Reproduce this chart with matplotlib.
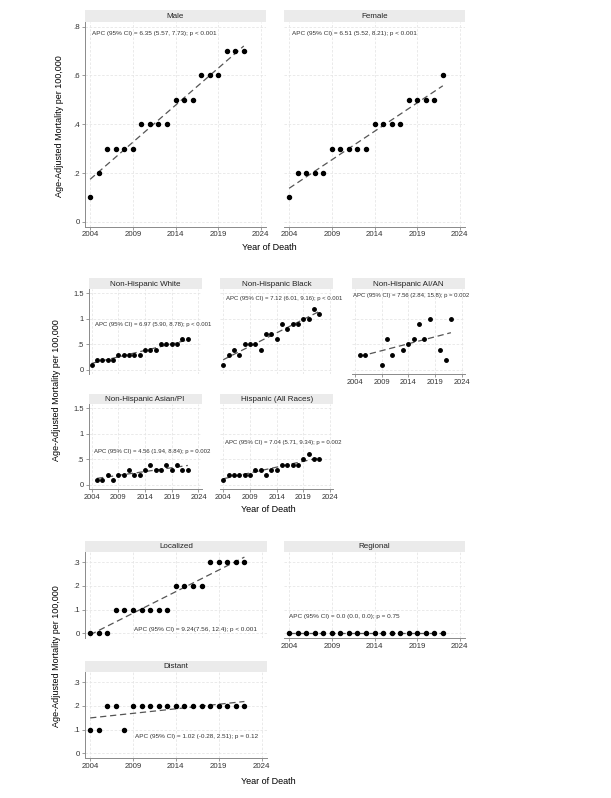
import numpy as np
import matplotlib
matplotlib.use("Agg")
import matplotlib.pyplot as plt

plt.rcParams['font.family'] = ['Liberation Sans', 'DejaVu Sans']

# ---------------- data ----------------
years = [2004, 2005, 2006, 2007, 2008, 2009, 2010, 2011, 2012, 2013,
         2014, 2015, 2016, 2017, 2018, 2019, 2020, 2021, 2022]

male = [0.1, 0.2, 0.3, 0.3, 0.3, 0.3, 0.4, 0.4, 0.4, 0.4,
        0.5, 0.5, 0.5, 0.6, 0.6, 0.6, 0.7, 0.7, 0.7]
female = [0.1, 0.2, 0.2, 0.2, 0.2, 0.3, 0.3, 0.3, 0.3, 0.3,
          0.4, 0.4, 0.4, 0.4, 0.5, 0.5, 0.5, 0.5, 0.6]

nh_white = [0.1, 0.2, 0.2, 0.2, 0.2, 0.3, 0.3, 0.3, 0.3, 0.3,
            0.4, 0.4, 0.4, 0.5, 0.5, 0.5, 0.5, 0.6, 0.6]
nh_black = [0.1, 0.3, 0.4, 0.3, 0.5, 0.5, 0.5, 0.4, 0.7, 0.7,
            0.6, 0.9, 0.8, 0.9, 0.9, 1.0, 1.0, 1.2, 1.1]
aian_years = [2005, 2006, 2009, 2010, 2011, 2013, 2014, 2015, 2016,
              2017, 2018, 2020, 2021, 2022]
nh_aian = [0.3, 0.3, 0.1, 0.6, 0.3, 0.4, 0.5, 0.6, 0.9, 0.6, 1.0, 0.4, 0.2, 1.0]
asian_years = [2005, 2006, 2007, 2008, 2009, 2010, 2011, 2012, 2013,
               2014, 2015, 2016, 2017, 2018, 2019, 2020, 2021, 2022]
nh_asian = [0.1, 0.1, 0.2, 0.1, 0.2, 0.2, 0.3, 0.2, 0.2,
            0.3, 0.4, 0.3, 0.3, 0.4, 0.3, 0.4, 0.3, 0.3]
hispanic = [0.1, 0.2, 0.2, 0.2, 0.2, 0.2, 0.3, 0.3, 0.2, 0.3,
            0.3, 0.4, 0.4, 0.4, 0.4, 0.5, 0.6, 0.5, 0.5]

localized = [0.0, 0.0, 0.0, 0.1, 0.1, 0.1, 0.1, 0.1, 0.1, 0.1,
             0.2, 0.2, 0.2, 0.2, 0.3, 0.3, 0.3, 0.3, 0.3]
regional = [0.0] * 19
distant = [0.1, 0.1, 0.2, 0.2, 0.1, 0.2, 0.2, 0.2, 0.2, 0.2,
           0.2, 0.2, 0.2, 0.2, 0.2, 0.2, 0.2, 0.2, 0.2]

apc_male = "APC (95% CI) = 6.35 (5.57, 7.73); p < 0.001"
apc_female = "APC (95% CI) = 6.51 (5.52, 8.21); p < 0.001"
apc_white = "APC (95% CI) = 6.97 (5.90, 8.78); p < 0.001"
apc_black = "APC (95% CI) = 7.12 (6.01, 9.16); p < 0.001"
apc_aian = "APC (95% CI) = 7.56 (2.84, 15.8); p = 0.002"
apc_asian = "APC (95% CI) = 4.56 (1.94, 8.84); p = 0.002"
apc_hisp = "APC (95% CI) = 7.04 (5.71, 9.34); p = 0.002"
apc_loc = "APC (95% CI) = 9.24(7.56, 12.4); p < 0.001"
apc_reg = "APC (95% CI) = 0.0 (0.0, 0.0); p = 0.75"
apc_dist = "APC (95% CI) = 1.02 (-0.28, 2.51); p = 0.12"

xticks = [2004, 2009, 2014, 2019, 2024]
yticks_top = [0, 0.2, 0.4, 0.6, 0.8]
ylabels_top = ["0", ".2", ".4", ".6", ".8"]
yticks_mid = [0, 0.5, 1.0, 1.5]
ylabels_mid = ["0", ".5", "1", "1.5"]
yticks_bot = [0, 0.1, 0.2, 0.3]
ylabels_bot = ["0", ".1", ".2", ".3"]

# ---------------- figure ----------------
W, H = 611, 798
fig = plt.figure(figsize=(W / 100, H / 100), dpi=100)
fig.patch.set_facecolor('white')

AXC = '#8a8a8a'
GRID = '#e6e6e6'
HEAD = '#ebebeb'


def panel(left, right, htop, top, bottom, title, xs, ys, ylim, yt, ylab,
          show_left, show_bottom, apc, apc_xy, fs_tick, fs_apc, ms):
    ax = fig.add_axes([left / W, 1 - bottom / H, (right - left) / W, (bottom - top) / H])
    hx = fig.add_axes([left / W, 1 - top / H, (right - left) / W, (top - htop) / H])
    hx.set_facecolor(HEAD)
    hx.set_xticks([]); hx.set_yticks([])
    for s in hx.spines.values():
        s.set_visible(False)
    hx.text(0.5, 0.45, title, ha='center', va='center', fontsize=5.8,
            color='#222222', transform=hx.transAxes)

    ax.set_xlim(2003.4, 2024.6)
    ax.set_ylim(*ylim)
    ax.set_xticks(xticks)
    ax.set_yticks(yt)
    ax.grid(True, color=GRID, lw=0.6, ls=(0, (3, 2)))
    ax.set_axisbelow(True)
    for s in ['top', 'right']:
        ax.spines[s].set_visible(False)
    ax.spines['left'].set_visible(show_left)
    ax.spines['bottom'].set_visible(show_bottom)
    ax.spines['left'].set_color(AXC)
    ax.spines['bottom'].set_color(AXC)
    ax.spines['left'].set_linewidth(0.7)
    ax.spines['bottom'].set_linewidth(0.7)
    ax.tick_params(axis='both', colors=AXC, labelcolor='#333333', length=2.2,
                   width=0.6, labelsize=fs_tick, pad=1.2)
    if show_left:
        ax.set_yticklabels(ylab)
    else:
        ax.tick_params(axis='y', left=False, labelleft=False)
    if not show_bottom:
        ax.tick_params(axis='x', bottom=False, labelbottom=False)

    xa = np.array(xs, dtype=float)
    ya = np.array(ys, dtype=float)
    b, a = np.polyfit(xa, ya, 1)
    xf = np.array([xa.min(), xa.max()])
    ax.plot(xf, a + b * xf, ls=(0, (5, 3)), color='#555555', lw=0.9, zorder=2)
    ax.plot(xa, ya, 'o', color='black', ms=ms, mec='black', zorder=3, clip_on=False)
    ax.text(apc_xy[0], apc_xy[1], apc, fontsize=fs_apc, color='#333333',
            ha='left', va='center', clip_on=False)
    return ax


# top block
ylim_top = (-0.02, 0.82)
panel(85, 266, 10, 21.7, 226.7, "Male", years, male, ylim_top, yticks_top, ylabels_top,
      True, True, apc_male, (2004.2, 0.773), 5.7, 4.6, 2.9)
panel(284, 465, 10, 21.7, 226.7, "Female", years, female, ylim_top, yticks_top, ylabels_top,
      False, True, apc_female, (2004.3, 0.773), 5.7, 4.6, 2.9)
fig.text(60 / W, 1 - 126 / H, "Age-Adjusted Mortality per 100,000", rotation=90,
         ha='center', va='center', fontsize=6.5)
fig.text(269 / W, 1 - 247 / H, "Year of Death", ha='center', va='center', fontsize=6.5)

# middle block
ylim_mid = (-0.085, 1.585)
panel(88.5, 201.7, 278.5, 289, 374.3, "Non-Hispanic White", years, nh_white, ylim_mid,
      yticks_mid, ylabels_mid, True, False, apc_white, (2004.6, 0.89), 5.4, 4.3, 2.5)
panel(220, 333.3, 278.5, 289, 374.3, "Non-Hispanic Black", years, nh_black, ylim_mid,
      yticks_mid, ylabels_mid, False, False, apc_black, (2004.5, 1.40), 5.4, 4.3, 2.5)
panel(351.6, 464.8, 278.5, 289, 374.3, "Non-Hispanic AI/AN", aian_years, nh_aian, ylim_mid,
      yticks_mid, ylabels_mid, False, True, apc_aian, (2003.7, 1.45), 5.4, 4.3, 2.5)
panel(88.5, 201.7, 394, 404, 489.3, "Non-Hispanic Asian/PI", asian_years, nh_asian, ylim_mid,
      yticks_mid, ylabels_mid, True, True, apc_asian, (2004.5, 0.66), 5.4, 4.3, 2.5)
panel(220, 333.3, 394, 404, 489.3, "Hispanic (All Races)", years, hispanic, ylim_mid,
      yticks_mid, ylabels_mid, False, True, apc_hisp, (2004.3, 0.835), 5.4, 4.3, 2.5)
fig.text(57 / W, 1 - 390 / H, "Age-Adjusted Mortality per 100,000", rotation=90,
         ha='center', va='center', fontsize=6.5)
fig.text(268 / W, 1 - 510 / H, "Year of Death", ha='center', va='center', fontsize=6.5)

# bottom block
ylim_bot = (-0.02, 0.345)
panel(85, 266.7, 540.7, 551.7, 638, "Localized", years, localized, ylim_bot,
      yticks_bot, ylabels_bot, True, False, apc_loc, (2009.07, 0.014), 5.7, 4.6, 2.9)
panel(284, 465, 540.7, 551.7, 638, "Regional", years, regional, ylim_bot,
      yticks_bot, ylabels_bot, False, True, apc_reg, (2004.0, 0.073), 5.7, 4.6, 2.9)
panel(85, 266.7, 660.7, 671.7, 758, "Distant", years, distant, ylim_bot,
      yticks_bot, ylabels_bot, True, True, apc_dist, (2009.27, 0.073), 5.7, 4.6, 2.9)
fig.text(57 / W, 1 - 656.5 / H, "Age-Adjusted Mortality per 100,000", rotation=90,
         ha='center', va='center', fontsize=6.5)
fig.text(268 / W, 1 - 781.7 / H, "Year of Death", ha='center', va='center', fontsize=6.5)

fig.savefig("out.png", dpi=100, facecolor='white')
